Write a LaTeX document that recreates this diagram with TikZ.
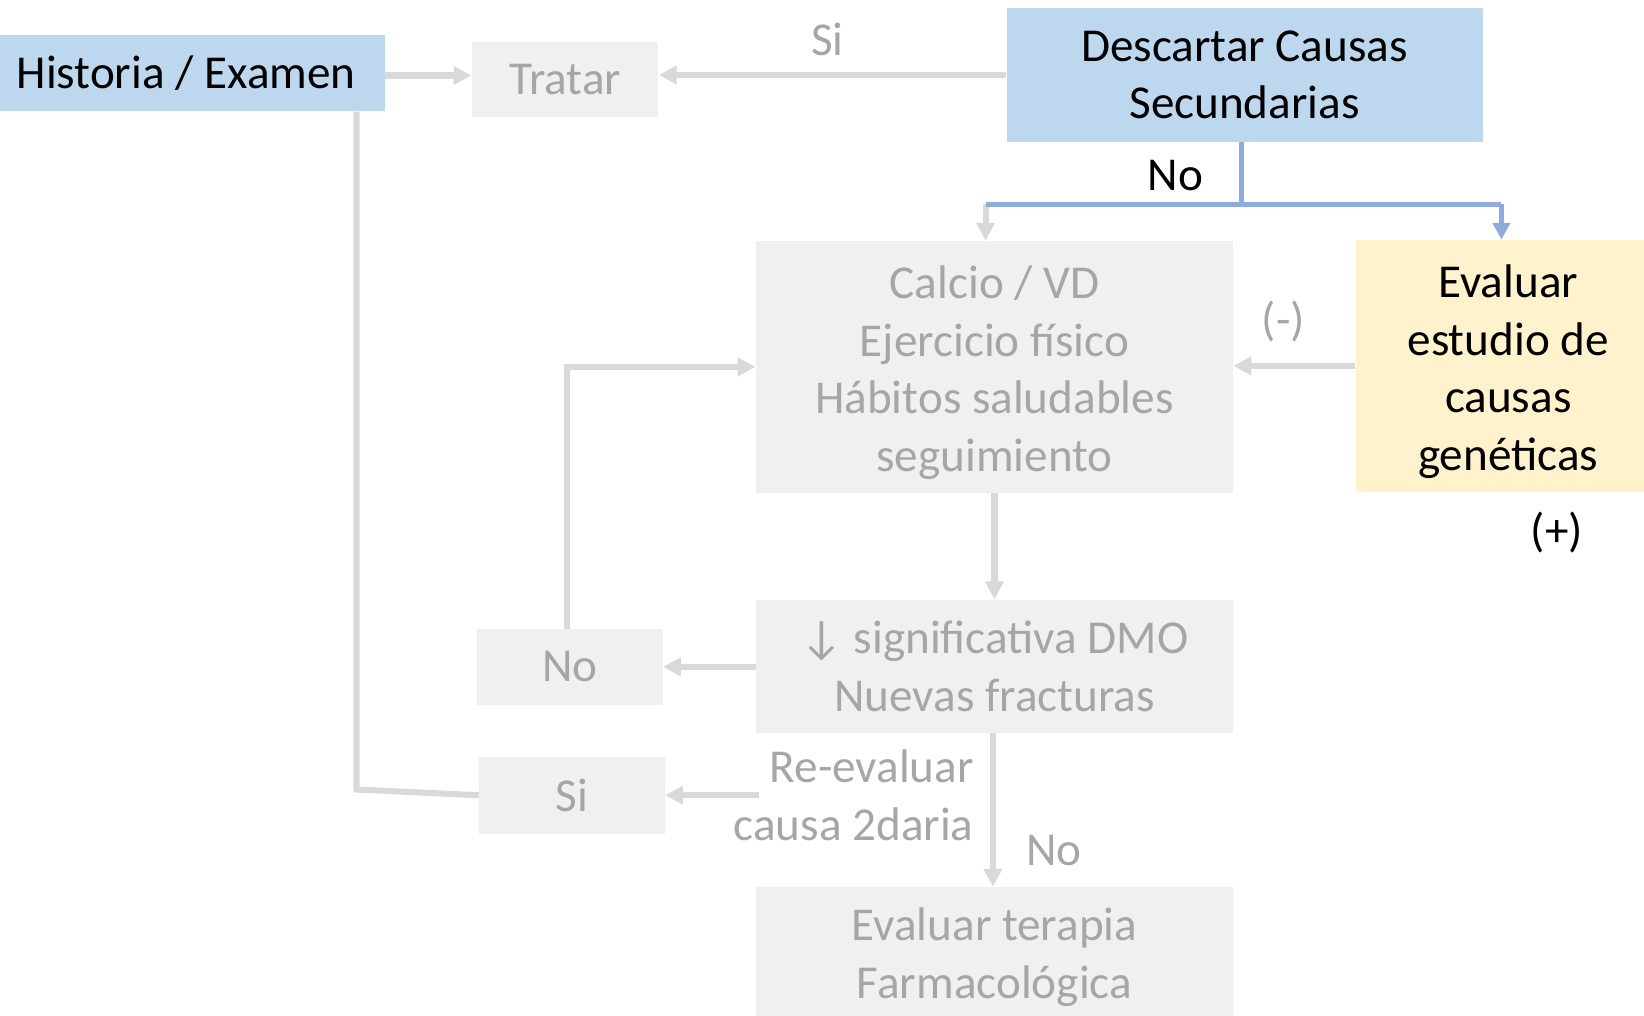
\documentclass[tikz,border=0pt]{standalone}
\usepackage{fontspec}
\setmainfont{Carlito}
\usetikzlibrary{arrows.meta}
\definecolor{bfill}{HTML}{BDD7EE}
\definecolor{bline}{HTML}{8FAADC}
\definecolor{yfill}{HTML}{FFF2CC}
\definecolor{gfill}{HTML}{F0F0F0}
\definecolor{gtext}{HTML}{A6A6A6}
\definecolor{gline}{HTML}{D9D9D9}
\newcommand{\toppad}{\rule{0pt}{21pt}}
\tikzset{
  box/.style={inner sep=0pt, align=center, font=\fontsize{22.5pt}{27.5pt}\selectfont},
  bluebox/.style={box, fill=bfill, text=black},
  greybox/.style={box, fill=gfill, text=gtext},
  yellowbox/.style={box, fill=yfill, text=black},
  lbl/.style={inner sep=0pt, align=center, font=\fontsize{22.5pt}{27.5pt}\selectfont},
  glbl/.style={lbl, text=gtext},
  klbl/.style={lbl, text=black},
  gconn/.style={draw=gline, line width=2.9pt},
  garrow/.style={gconn, -{Triangle[width=8.5pt,length=8.5pt]}},
  bconn/.style={draw=bline, line width=2.2pt},
  barrow/.style={bconn, -{Triangle[width=8pt,length=8pt]}},
}
\begin{document}
\begin{tikzpicture}[x=0.5pt,y=-0.5pt]
\useasboundingbox (0,0) rectangle (1568,969);
\clip (0,0) rectangle (1568,969);
% boxes
\node[bluebox, minimum width=183.5pt, minimum height=36.5pt] (hist) at (183.5,69.5) {Historia / Examen\hspace*{6pt}};
\node[greybox, minimum width=89pt, minimum height=36pt] (tratar) at (539,76) {Tratar};
\node[bluebox, minimum width=227pt, minimum height=63.5pt] (desc) at (1187,71.5) {Descartar Causas\\Secundarias};
\node[greybox, minimum width=227.5pt, minimum height=120pt] (calcio) at (948.5,350) {\toppad Calcio / VD\\Ejercicio físico\\Hábitos saludables\\seguimiento};
\node[yellowbox, minimum width=145.5pt, minimum height=120pt] (gen) at (1438.5,349) {\toppad Evaluar\\estudio de\\causas\\genéticas};
\node[greybox, minimum width=227.5pt, minimum height=63.5pt] (dmo) at (948.5,635.5) {↓ significativa DMO\\Nuevas fracturas};
\node[greybox, minimum width=88.5pt, minimum height=36pt] (no) at (543.5,636) {No};
\node[greybox, minimum width=88.5pt, minimum height=36.5pt] (si) at (545.5,758.5) {Si};
\node[greybox, minimum width=227.5pt, minimum height=61.5pt] (ter) at (948.5,907.5) {\toppad Evaluar terapia\\Farmacológica};
% labels
\node[glbl] (lsi) at (789,38) {Si};
\node[klbl] (lno) at (1121,167) {No};
\node[glbl] (lminus) at (1224,307) {(-)};
\node[klbl] (lplus) at (1485,508) {(+)};
\node[glbl, anchor=east, align=right] (lre) at (929,758.5) {Re-evaluar\\causa 2daria};
\node[glbl] (lno2) at (1005,811) {No};
% coordinates
\coordinate (split) at (1184,195);
\coordinate (lsplit) at (940,195);
\coordinate (rsplit) at (1432,195);
\coordinate (restart) at (724,758.5);
\coordinate (corner) at (340,753);
% connectors
\draw[garrow] (hist.east |- 0,72) -- (tratar.west |- 0,72);
\draw[garrow] (desc.west |- 0,71.5) -- (tratar.east |- 0,71.5);
\draw[bconn] (desc.south -| split) -- (split);
\draw[garrow] (lsplit) -- (lsplit |- calcio.north);
\draw[bconn] (lsplit) -- (rsplit);
\draw[barrow] (rsplit) -- (rsplit |- gen.north);
\draw[garrow] (gen.west) -- (calcio.east |- gen.west);
\draw[garrow] (calcio.south) -- (dmo.north);
\draw[garrow] (dmo.west |- no.east) -- (no.east);
\draw[garrow] (no.north -| 541,0) |- (calcio.west);
\draw[garrow] (restart) -- (si.east);
\draw[gconn] (si.west) -- (corner) -- (corner |- hist.south);
\draw[garrow] (dmo.south -| 947,0) -- (ter.north -| 947,0);
\end{tikzpicture}
\end{document}
